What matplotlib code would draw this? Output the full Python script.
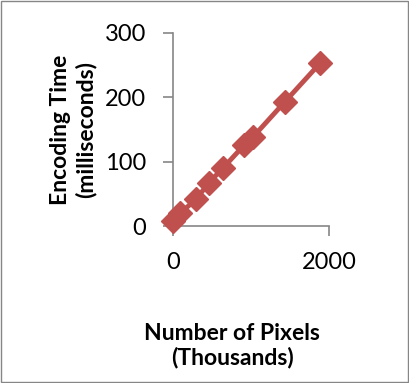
import matplotlib
matplotlib.use("Agg")
import matplotlib.pyplot as plt
from matplotlib.patches import Rectangle

plt.rcParams["font.family"] = ["Lato", "DejaVu Sans"]

# encoding time vs image size
pixels_k = [8, 94, 298, 464, 639, 915, 1030, 1435, 1882]
time_ms = [7.8, 19.7, 41.4, 67.3, 89.5, 125.8, 138.7, 193, 252.6]

x_ticks = [0, 2000]
y_ticks = [0, 100, 200, 300]

RED = "#C0504D"
GRAY = "#868686"

fig = plt.figure(figsize=(4.09, 3.83), dpi=100)
ax = fig.add_axes([0.4222, 0.4099, 0.805 - 0.4222, 0.9146 - 0.4099])

ax.plot(pixels_k, time_ms, color=RED, linewidth=3.5, marker="D",
        markersize=12, markerfacecolor=RED, markeredgecolor=RED,
        clip_on=False, zorder=3)

ax.set_xlim(0, 2000)
ax.set_ylim(0, 300)
ax.set_xticks(x_ticks)
ax.set_yticks(y_ticks)
ax.tick_params(axis="both", direction="out", length=7, width=1.2,
               color=GRAY, labelsize=17)
ax.tick_params(axis="y", pad=12)
ax.tick_params(axis="x", pad=12)
for side in ("top", "right"):
    ax.spines[side].set_visible(False)
for side in ("left", "bottom"):
    ax.spines[side].set_color(GRAY)
    ax.spines[side].set_linewidth(1.2)
ax.patch.set_alpha(0)

ax.set_ylabel("Encoding Time\n(milliseconds)", fontsize=16.5,
              fontweight="bold", linespacing=1.2)
ax.yaxis.set_label_coords(-0.485, 0.5)
ax.set_xlabel("Number of Pixels\n(Thousands)", fontsize=16.5,
              fontweight="bold", linespacing=1.15)
ax.xaxis.set_label_coords(0.379, -0.5)

# outer chart frame
fig.patches.append(Rectangle((0.002, 0.002), 0.995, 0.995,
                             transform=fig.transFigure, fill=False,
                             edgecolor=GRAY, linewidth=1))

fig.savefig("out.png", dpi=100)
